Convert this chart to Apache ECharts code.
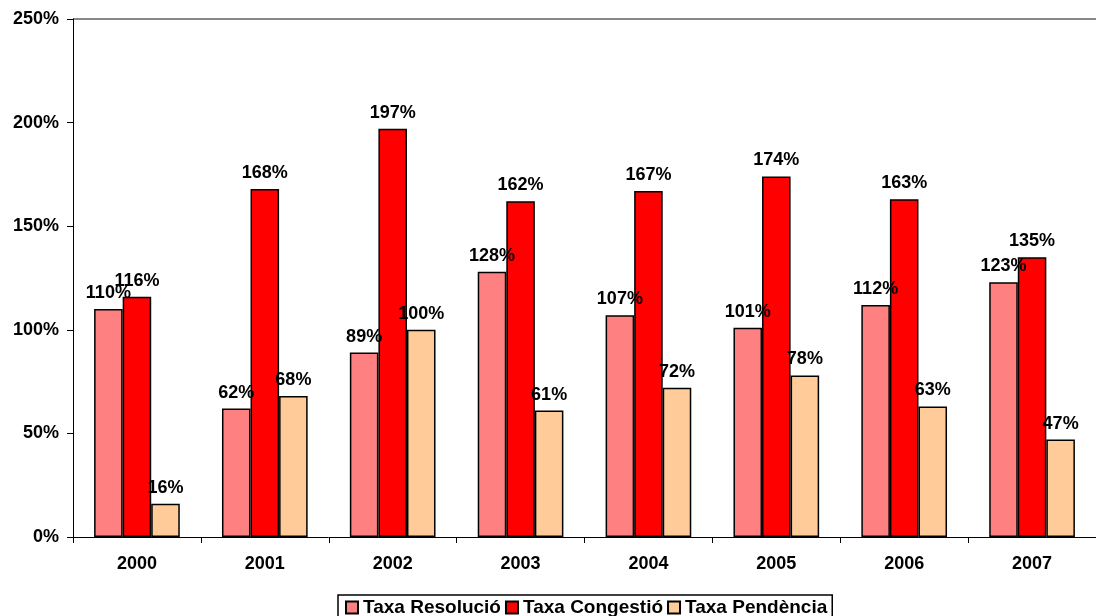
<!DOCTYPE html>
<html><head><meta charset="utf-8">
<script src="https://cdn.jsdelivr.net/npm/echarts@6/dist/echarts.min.js"></script>
<style>html,body{margin:0;padding:0;background:#fff}#c{width:1096px;height:616px}</style>
</head><body><div id="c"></div>
<script>
const categories = ['2000','2001','2002','2003','2004','2005','2006','2007'];
const seriesNames = ['Taxa Resolució','Taxa Congestió','Taxa Pendència'];
const resolucio = [110,62,89,128,107,101,112,123];
const congestio = [116,168,197,162,167,174,163,135];
const pendencia = [16,68,100,61,72,78,63,47];
const colors = ['#FF8080','#FF0000','#FFCC99'];
const yTicks = [0,50,100,150,200,250];

const chart = echarts.init(document.getElementById('c'));
const font = 'Arial, "Liberation Sans", sans-serif';
function mk(name, data, color){
  return {
    name, type:'bar', data,
    barGap:'0%', barCategoryGap:'33%',
    itemStyle:{color, borderColor:'#000', borderWidth:1.5},
    label:{show:true, position:'top', distance:7, formatter:'{c}%',
      fontFamily:font, fontWeight:'bold', fontSize:18, color:'#000'}
  };
}
chart.setOption({
  animation:false,
  backgroundColor:'#fff',
  grid:{left:73, top:19, width:1032, height:518, containLabel:false},
  legend:{
    top:595, left:338,
    data:seriesNames,
    icon:'rect', itemWidth:12, itemHeight:12, itemGap:4,
    borderColor:'#000', borderWidth:1.5, padding:[3,5,4,7],
    textStyle:{fontFamily:font, fontWeight:'bold', fontSize:19, color:'#000'}
  },
  xAxis:{
    type:'category', data:categories,
    axisLine:{lineStyle:{color:'#000', width:1}},
    axisTick:{show:true, length:6, lineStyle:{color:'#000'}},
    axisLabel:{fontFamily:font, fontWeight:'bold', fontSize:18, color:'#000', margin:18}
  },
  yAxis:{
    type:'value', min:yTicks[0], max:yTicks[yTicks.length-1], interval:50,
    axisLine:{show:true, lineStyle:{color:'#000', width:1}},
    axisTick:{show:true, length:6, lineStyle:{color:'#000'}},
    axisLabel:{formatter:'{value}%', fontFamily:font, fontWeight:'bold', fontSize:18, color:'#000', margin:14},
    splitLine:{show:true, lineStyle:{color:['rgba(0,0,0,0)','rgba(0,0,0,0)','rgba(0,0,0,0)','rgba(0,0,0,0)','rgba(0,0,0,0)','#888'], width:2}}
  },
  series:[mk(seriesNames[0], resolucio, colors[0]), mk(seriesNames[1], congestio, colors[1]), mk(seriesNames[2], pendencia, colors[2])]
});
</script></body></html>
